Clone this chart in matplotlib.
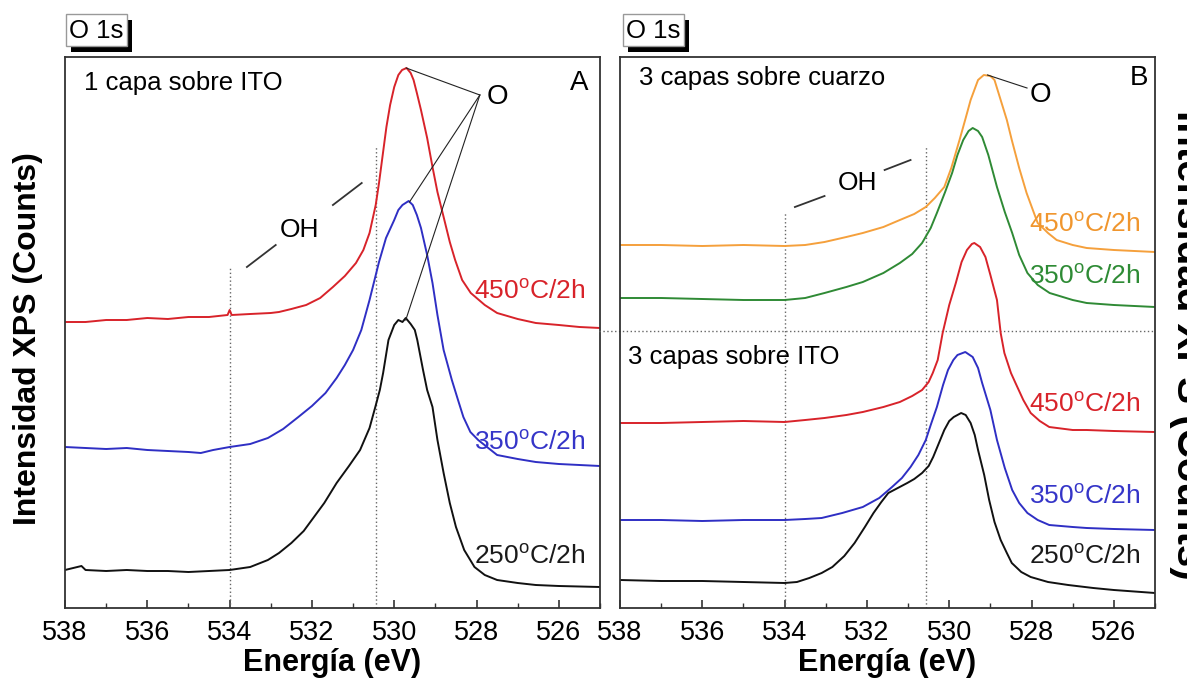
import matplotlib
matplotlib.use("Agg")
import matplotlib.pyplot as plt
from matplotlib.patches import Rectangle
from matplotlib.ticker import MultipleLocator

plt.rcParams['font.family'] = ['Liberation Sans', 'DejaVu Sans']
plt.rcParams['mathtext.fontset'] = 'custom'
plt.rcParams['mathtext.rm'] = 'Liberation Sans'
plt.rcParams['mathtext.it'] = 'Liberation Sans:italic'
plt.rcParams['mathtext.bf'] = 'Liberation Sans:bold'

# ---------------- spectra (binding energy in eV, intensity in a.u.) ----------------
# Panel A: 1 capa sobre ITO
a450_e = [538.0, 537.5, 537.0, 536.5, 536.0, 535.5, 535.0, 534.5, 534.05, 534.0, 533.95,
          533.5, 533.0, 532.8, 532.5, 532.14, 531.8, 531.49, 531.2, 530.93, 530.75, 530.6,
          530.45, 530.37, 530.28, 530.19, 530.1, 530.0, 529.9, 529.81, 529.7, 529.6, 529.53,
          529.45, 529.35, 529.2, 529.07, 528.95, 528.8, 528.65, 528.52, 528.35, 528.14,
          527.8, 527.5, 527.0, 526.56, 526.0, 525.5, 525.0]
a450_i = [286, 286, 288, 288, 290, 289, 291, 291, 293, 298, 293,
          294, 295, 296, 299, 303, 310, 321, 332, 345, 358, 375,
          403, 425, 453, 481, 503, 521, 533, 538, 540, 535, 528,
          515, 498, 470, 441, 416, 391, 366, 348, 328, 315,
          303, 295, 289, 285, 283, 281, 280]

a350_e = [538.0, 537.5, 537.0, 536.5, 536.0, 535.5, 535.0, 534.7, 534.4, 534.0, 533.5,
          533.07, 532.7, 532.33, 532.0, 531.67, 531.4, 531.2, 531.0, 530.8, 530.6, 530.37,
          530.2, 530.0, 529.9, 529.8, 529.65, 529.55, 529.45, 529.35, 529.2, 529.07,
          528.95, 528.8, 528.6, 528.45, 528.32, 528.15, 527.96, 527.5, 527.0, 526.56,
          526.0, 525.0]
a350_i = [161, 160, 159, 160, 158, 157, 156, 155, 158, 161, 164,
          170, 179, 191, 202, 215, 230, 243, 258, 278, 308, 346,
          370, 388, 398, 403, 407, 403, 393, 380, 353, 325,
          293, 258, 228, 208, 191, 176, 168, 153, 149, 146,
          144, 142]

a250_e = [538.0, 537.6, 537.5, 537.0, 536.5, 536.0, 535.5, 535.0, 534.5, 534.0, 533.5,
          533.07, 532.8, 532.5, 532.2, 531.95, 531.7, 531.4, 531.1, 530.83, 530.6, 530.46,
          530.35, 530.27, 530.14, 530.0, 529.9, 529.8, 529.72, 529.6, 529.5, 529.44, 529.3,
          529.2, 529.07, 528.95, 528.8, 528.65, 528.5, 528.3, 528.05, 527.8, 527.5, 527.0,
          526.56, 526.0, 525.0]
a250_i = [38, 42, 38, 37, 38, 37, 37, 36, 37, 38, 41,
          48, 55, 65, 77, 91, 105, 125, 142, 158, 180, 201,
          218, 235, 268, 283, 288, 286, 290, 284, 278, 268, 238,
          218, 201, 168, 135, 105, 81, 58, 41, 33, 28, 25,
          23, 22, 21]

# Panel B top: 3 capas sobre cuarzo
bq450_e = [538.0, 537.0, 536.0, 535.0, 534.0, 533.5, 533.03, 532.5, 532.1, 531.6, 531.2,
           530.85, 530.57, 530.35, 530.12, 529.95, 529.75, 529.6, 529.48, 529.3, 529.16,
           529.0, 528.9, 528.75, 528.6, 528.48, 528.3, 528.12, 527.95, 527.85, 527.6,
           527.39, 527.0, 526.66, 526.0, 525.0]
bq450_i = [363, 363, 362, 363, 362, 363, 366, 371, 375, 381, 388,
           394, 401, 410, 421, 440, 468, 490, 508, 528, 533,
           532, 528, 508, 488, 468, 440, 415, 396, 385, 375,
           368, 363, 360, 358, 356]

bq350_e = [538.0, 537.0, 536.0, 535.0, 534.0, 533.5, 533.03, 532.5, 532.1, 531.6, 531.2,
           530.9, 530.66, 530.45, 530.3, 530.1, 529.93, 529.8, 529.66, 529.53, 529.43,
           529.3, 529.2, 529.05, 528.84, 528.65, 528.47, 528.3, 528.1, 527.85, 527.56,
           527.0, 526.66, 526.0, 525.0]
bq350_i = [310, 310, 309, 308, 308, 310, 315, 321, 326, 335, 345,
           354, 365, 380, 395, 416, 435, 453, 468, 477, 480,
           477, 471, 453, 421, 396, 375, 353, 335, 323, 315,
           308, 305, 303, 301]

# Panel B bottom: 3 capas sobre ITO
bi450_e = [538.0, 537.0, 536.0, 535.0, 534.0, 533.5, 533.03, 532.5, 532.1, 531.6, 531.2,
           530.9, 530.66, 530.5, 530.4, 530.28, 530.16, 530.0, 529.84, 529.7, 529.57,
           529.45, 529.39, 529.25, 529.12, 529.0, 528.84, 528.75, 528.66, 528.5, 528.39,
           528.2, 528.02, 527.8, 527.57, 527.0, 526.66, 526.0, 525.0]
bi450_i = [185, 185, 186, 187, 186, 188, 190, 193, 196, 201, 206,
           212, 218, 226, 235, 248, 275, 303, 325, 346, 358,
           364, 365, 361, 351, 333, 308, 275, 255, 235, 225,
           208, 195, 187, 181, 178, 178, 177, 176]

bi350_e = [538.0, 537.0, 536.0, 535.0, 534.0, 533.5, 533.1, 532.6, 532.1, 531.7, 531.39,
           531.15, 530.94, 530.75, 530.57, 530.45, 530.3, 530.15, 530.03, 529.9, 529.8,
           529.61, 529.43, 529.3, 529.2, 529.0, 528.84, 528.65, 528.47, 528.3, 528.1,
           527.85, 527.57, 527.0, 526.66, 526.0, 525.0]
bi350_i = [88, 88, 87, 88, 88, 89, 90, 95, 101, 110, 121,
           130, 141, 153, 168, 183, 201, 223, 238, 248, 253,
           256, 251, 240, 225, 198, 168, 140, 118, 105, 95,
           88, 83, 81, 80, 79, 78]

bi250_e = [538.0, 537.0, 536.0, 535.0, 534.0, 533.7, 533.4, 533.1, 532.84, 532.55, 532.3,
           532.05, 531.84, 531.65, 531.48, 531.25, 531.02, 530.85, 530.66, 530.5, 530.39,
           530.25, 530.12, 530.0, 529.89, 529.71, 529.6, 529.48, 529.38, 529.3, 529.15,
           529.03, 528.9, 528.75, 528.6, 528.48, 528.25, 528.02, 527.6, 527.11, 526.5,
           526.0, 525.0]
bi250_i = [28, 27, 27, 26, 25, 26, 30, 35, 41, 52, 65,
           81, 95, 106, 115, 120, 125, 129, 135, 142, 151,
           165, 178, 187, 191, 195, 193, 185, 173, 158, 133,
           108, 86, 68, 55, 45, 36, 31, 26, 23, 20,
           18, 15]

# Temperature labels: (temperature, colour, intensity position)
labels_a = [("450", "#d8232a", 316), ("350", "#3535c8", 165), ("250", "#1a1a1a", 51)]
labels_b = [("450", "#f0962e", 383), ("350", "#2e8b35", 331),
            ("450", "#d8232a", 203), ("350", "#3535c8", 111), ("250", "#1a1a1a", 51)]

xticks = [538, 536, 534, 532, 530, 528, 526]
E_MIN, E_MAX = 525.0, 538.0
I_MAX = 551.0

c_red, c_blue, c_black = "#d8232a", "#2f2fc4", "#111111"
c_orange, c_green = "#f5a03c", "#2f8a35"

W, H = 1187, 681
fig = plt.figure(figsize=(W / 100, H / 100), dpi=100)


def px_rect(x0, y0, x1, y1):
    """figure-fraction rectangle from pixel edges (y measured from the top)"""
    return [x0 / W, 1 - y1 / H, (x1 - x0) / W, (y1 - y0) / H]


axA = fig.add_axes(px_rect(65, 57, 600, 608))
axB = fig.add_axes(px_rect(620, 57, 1155, 608))

for ax in (axA, axB):
    ax.set_xlim(E_MAX, E_MIN)
    ax.set_ylim(0, I_MAX)
    ax.set_yticks([])
    ax.set_xticks(xticks)
    ax.set_xticklabels([str(t) for t in xticks])
    ax.xaxis.set_minor_locator(MultipleLocator(1))
    ax.tick_params(axis='x', which='both', direction='in', top=False,
                   labelsize=19.5, pad=9, color='#333333')
    ax.tick_params(axis='x', which='major', length=6, width=1.2)
    ax.tick_params(axis='x', which='minor', length=3.5, width=1.0)
    for s in ax.spines.values():
        s.set_linewidth(1.3)
        s.set_color('#333333')
    ax.set_xlabel("Energía (eV)", fontsize=22, fontweight='bold', labelpad=1)

lw = 1.4
dot = dict(color='#666666', lw=1.0, linestyle=(0, (1, 1.8)))

# ---- panel A ----
axA.plot([534, 534], [0, 341], **dot)
axA.plot([530.45, 530.45], [0, 461], **dot)
axA.plot(a450_e, a450_i, color=c_red, lw=lw)
axA.plot(a350_e, a350_i, color=c_blue, lw=lw)
axA.plot(a250_e, a250_i, color=c_black, lw=lw)

for t, c, y in labels_a:
    axA.text(0.972, y / I_MAX, t + r"$^{\mathrm{o}}$C/2h", color=c, fontsize=19,
             ha='right', va='center', transform=axA.transAxes)

axA.text(0.0355, 0.953, "1 capa sobre ITO", fontsize=18.5, ha='left', va='center',
         transform=axA.transAxes)
axA.text(0.962, 0.953, "A", fontsize=20, ha='center', va='center', transform=axA.transAxes)
axA.text(527.5, 511, "O", fontsize=20, ha='center', va='center')
for pe, pi in [(529.71, 540), (529.63, 406), (529.72, 288)]:
    axA.plot([527.92, pe], [513, pi], color='#222222', lw=0.8)
axA.text(532.29, 378, "OH", fontsize=19, ha='center', va='center')
axA.plot([533.58, 532.88], [341, 363], color='#333333', lw=1.3)
axA.plot([531.49, 530.79], [403, 425], color='#333333', lw=1.3)

# ---- panel B ----
axB.plot([538.5, 525.0], [277, 277], clip_on=False, **dot)
axB.plot([534, 534], [0, 395], **dot)
axB.plot([530.56, 530.56], [0, 461], **dot)
axB.plot(bq450_e, bq450_i, color=c_orange, lw=lw)
axB.plot(bq350_e, bq350_i, color=c_green, lw=lw)
axB.plot(bi450_e, bi450_i, color=c_red, lw=lw)
axB.plot(bi350_e, bi350_i, color=c_blue, lw=lw)
axB.plot(bi250_e, bi250_i, color=c_black, lw=lw)

for t, c, y in labels_b:
    axB.text(0.972, y / I_MAX, t + r"$^{\mathrm{o}}$C/2h", color=c, fontsize=19,
             ha='right', va='center', transform=axB.transAxes)

axB.text(0.0355, 0.962, "3 capas sobre cuarzo", fontsize=18.5, ha='left', va='center',
         transform=axB.transAxes)
axB.text(0.0155, 0.456, "3 capas sobre ITO", fontsize=18.5, ha='left', va='center',
         transform=axB.transAxes)
axB.text(0.970, 0.962, "B", fontsize=20, ha='center', va='center', transform=axB.transAxes)
axB.text(527.79, 513, "O", fontsize=20, ha='center', va='center')
axB.plot([529.07, 528.11], [533, 520], color='#222222', lw=0.8)
axB.text(532.22, 425, "OH", fontsize=19, ha='center', va='center')
axB.plot([533.75, 533.03], [401, 412], color='#333333', lw=1.3)
axB.plot([531.57, 530.94], [438, 448], color='#333333', lw=1.3)

# ---- "O 1s" tags with drop shadow ----
for x0 in (66, 623):
    fig.add_artist(Rectangle(px_rect(x0 + 5, 20, x0 + 66, 52)[:2],
                             61 / W, 32 / H, transform=fig.transFigure,
                             facecolor='black', edgecolor='none'))
    fig.add_artist(Rectangle(px_rect(x0, 14, x0 + 61, 46)[:2],
                             61 / W, 32 / H, transform=fig.transFigure,
                             facecolor='white', edgecolor='#999999', lw=1.0))
    fig.text((x0 + 30.5) / W, 1 - 31 / H, "O 1s", fontsize=18.5, ha='center', va='center')

# ---- y axis titles ----
fig.text(28 / W, 1 - 339 / H, "Intensidad XPS (Counts)", rotation=90, fontsize=23,
         fontweight='bold', ha='center', va='center')
fig.text(1169 / W, 1 - 345 / H, "Intensidad XPS (Counts)", rotation=270, fontsize=29,
         fontweight='bold', ha='left', va='center')

fig.savefig("out.png", dpi=100)
